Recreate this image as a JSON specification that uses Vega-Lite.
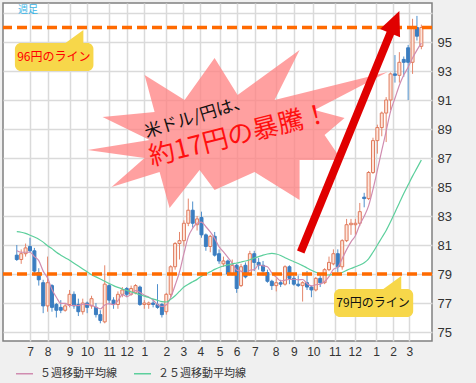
{
  "$schema": "https://vega.github.io/schema/vega-lite/v6.json",
  "width": 429,
  "height": 338,
  "autosize": {"type": "none"},
  "padding": {"left": 3, "top": 3, "right": 44, "bottom": 42},
  "background": "#f0f0f0",
  "config": {
    "view": {"fill": "#ffffff", "stroke": "#808080", "strokeWidth": 1.5},
    "axis": {"labelFont": "Liberation Sans", "labelColor": "#333333", "gridColor": "#dadada", "gridWidth": 1.5, "ticks": false, "domain": false, "title": null}
  },
  "data": {
    "values": [
      {"date": "2011-06-13", "open": 80.3, "high": 81.0, "low": 79.9, "close": 80.0, "ma5": 80.6, "ma25": 81.92},
      {"date": "2011-06-20", "open": 80.0, "high": 80.7, "low": 79.7, "close": 80.4, "ma5": 80.5, "ma25": 81.88},
      {"date": "2011-06-27", "open": 80.4, "high": 81.1, "low": 80.2, "close": 80.8, "ma5": 80.5, "ma25": 81.8},
      {"date": "2011-07-04", "open": 80.9, "high": 81.5, "low": 80.5, "close": 80.6, "ma5": 80.5, "ma25": 81.68},
      {"date": "2011-07-11", "open": 80.6, "high": 80.8, "low": 78.9, "close": 79.2, "ma5": 80.2, "ma25": 81.55},
      {"date": "2011-07-18", "open": 79.1, "high": 79.4, "low": 78.2, "close": 78.6, "ma5": 79.92, "ma25": 81.4},
      {"date": "2011-07-25", "open": 78.4, "high": 78.6, "low": 76.3, "close": 76.8, "ma5": 79.2, "ma25": 81.2},
      {"date": "2011-08-01", "open": 76.8, "high": 80.2, "low": 76.4, "close": 78.4, "ma5": 78.72, "ma25": 80.95},
      {"date": "2011-08-08", "open": 78.2, "high": 78.3, "low": 76.4, "close": 76.7, "ma5": 77.94, "ma25": 80.75},
      {"date": "2011-08-15", "open": 76.9, "high": 77.0, "low": 76.0, "close": 76.5, "ma5": 77.4, "ma25": 80.5},
      {"date": "2011-08-22", "open": 76.7, "high": 77.2, "low": 76.3, "close": 76.5, "ma5": 76.98, "ma25": 80.3},
      {"date": "2011-08-29", "open": 76.5, "high": 77.0, "low": 76.4, "close": 76.8, "ma5": 76.98, "ma25": 80.12},
      {"date": "2011-09-05", "open": 76.9, "high": 77.9, "low": 76.7, "close": 77.6, "ma5": 76.82, "ma25": 79.95},
      {"date": "2011-09-12", "open": 77.6, "high": 77.8, "low": 76.6, "close": 76.8, "ma5": 76.84, "ma25": 79.75},
      {"date": "2011-09-19", "open": 76.9, "high": 77.3, "low": 76.1, "close": 76.4, "ma5": 76.82, "ma25": 79.55},
      {"date": "2011-09-26", "open": 76.4, "high": 77.3, "low": 76.2, "close": 77.0, "ma5": 76.92, "ma25": 79.35},
      {"date": "2011-10-03", "open": 77.0, "high": 77.1, "low": 76.3, "close": 76.7, "ma5": 76.9, "ma25": 79.15},
      {"date": "2011-10-10", "open": 76.8, "high": 77.5, "low": 76.6, "close": 77.3, "ma5": 76.84, "ma25": 78.95},
      {"date": "2011-10-17", "open": 76.7, "high": 77.0, "low": 76.0, "close": 76.2, "ma5": 76.72, "ma25": 78.8},
      {"date": "2011-10-24", "open": 76.2, "high": 76.5, "low": 75.6, "close": 75.8, "ma5": 76.6, "ma25": 78.65},
      {"date": "2011-10-31", "open": 75.7, "high": 79.6, "low": 75.6, "close": 78.3, "ma5": 76.86, "ma25": 78.5},
      {"date": "2011-11-07", "open": 78.2, "high": 78.3, "low": 76.9, "close": 77.2, "ma5": 76.96, "ma25": 78.35},
      {"date": "2011-11-14", "open": 77.2, "high": 77.4, "low": 76.6, "close": 76.9, "ma5": 76.88, "ma25": 78.2},
      {"date": "2011-11-21", "open": 76.9, "high": 77.8, "low": 76.6, "close": 77.6, "ma5": 77.16, "ma25": 78.08},
      {"date": "2011-11-28", "open": 77.6, "high": 78.1, "low": 77.4, "close": 77.9, "ma5": 77.58, "ma25": 77.97},
      {"date": "2011-12-05", "open": 78.0, "high": 78.1, "low": 77.4, "close": 77.6, "ma5": 77.44, "ma25": 77.87},
      {"date": "2011-12-12", "open": 77.6, "high": 78.2, "low": 77.5, "close": 78.0, "ma5": 77.6, "ma25": 77.77},
      {"date": "2011-12-19", "open": 77.7, "high": 78.3, "low": 77.6, "close": 78.2, "ma5": 77.86, "ma25": 77.67},
      {"date": "2011-12-26", "open": 78.1, "high": 78.2, "low": 76.8, "close": 76.9, "ma5": 77.72, "ma25": 77.57},
      {"date": "2012-01-02", "open": 76.9, "high": 77.2, "low": 76.6, "close": 77.0, "ma5": 77.54, "ma25": 77.47},
      {"date": "2012-01-09", "open": 76.9, "high": 77.1, "low": 76.6, "close": 77.0, "ma5": 77.42, "ma25": 77.38},
      {"date": "2012-01-16", "open": 77.0, "high": 77.3, "low": 76.7, "close": 76.9, "ma5": 77.2, "ma25": 77.28},
      {"date": "2012-01-23", "open": 76.9, "high": 78.3, "low": 76.6, "close": 76.7, "ma5": 76.9, "ma25": 77.18},
      {"date": "2012-01-30", "open": 76.9, "high": 77.0, "low": 76.0, "close": 76.2, "ma5": 76.76, "ma25": 77.1},
      {"date": "2012-02-06", "open": 76.4, "high": 77.7, "low": 76.2, "close": 77.6, "ma5": 76.88, "ma25": 77.07},
      {"date": "2012-02-13", "open": 77.6, "high": 79.6, "low": 77.4, "close": 79.5, "ma5": 77.38, "ma25": 77.25},
      {"date": "2012-02-20", "open": 79.5, "high": 81.2, "low": 79.3, "close": 81.1, "ma5": 78.22, "ma25": 77.5},
      {"date": "2012-02-27", "open": 81.1, "high": 81.9, "low": 80.0, "close": 81.3, "ma5": 79.14, "ma25": 77.8},
      {"date": "2012-03-05", "open": 81.3, "high": 82.7, "low": 80.9, "close": 82.5, "ma5": 80.4, "ma25": 78.1},
      {"date": "2012-03-12", "open": 82.5, "high": 84.2, "low": 82.3, "close": 83.4, "ma5": 81.56, "ma25": 78.3},
      {"date": "2012-03-19", "open": 83.4, "high": 84.0, "low": 82.2, "close": 82.5, "ma5": 82.16, "ma25": 78.47},
      {"date": "2012-03-26", "open": 82.4, "high": 83.0, "low": 82.0, "close": 82.8, "ma5": 82.5, "ma25": 78.63},
      {"date": "2012-04-02", "open": 82.9, "high": 83.3, "low": 81.5, "close": 81.7, "ma5": 82.58, "ma25": 78.85},
      {"date": "2012-04-09", "open": 81.7, "high": 81.8, "low": 80.6, "close": 80.9, "ma5": 82.26, "ma25": 79.0},
      {"date": "2012-04-16", "open": 80.9, "high": 81.7, "low": 80.5, "close": 81.6, "ma5": 81.9, "ma25": 79.15},
      {"date": "2012-04-23", "open": 81.6, "high": 81.9, "low": 80.2, "close": 80.3, "ma5": 81.46, "ma25": 79.32},
      {"date": "2012-04-30", "open": 80.4, "high": 80.7, "low": 79.7, "close": 79.9, "ma5": 80.88, "ma25": 79.45},
      {"date": "2012-05-07", "open": 79.7, "high": 80.2, "low": 79.5, "close": 79.9, "ma5": 80.52, "ma25": 79.55},
      {"date": "2012-05-14", "open": 79.9, "high": 80.0, "low": 78.9, "close": 79.0, "ma5": 80.14, "ma25": 79.63},
      {"date": "2012-05-21", "open": 79.0, "high": 80.0, "low": 78.9, "close": 79.6, "ma5": 79.74, "ma25": 79.7},
      {"date": "2012-05-28", "open": 79.6, "high": 79.7, "low": 77.7, "close": 78.0, "ma5": 79.28, "ma25": 79.76},
      {"date": "2012-06-04", "open": 78.2, "high": 79.7, "low": 78.1, "close": 79.5, "ma5": 79.2, "ma25": 79.83},
      {"date": "2012-06-11", "open": 79.6, "high": 79.8, "low": 78.7, "close": 78.8, "ma5": 78.98, "ma25": 79.9},
      {"date": "2012-06-18", "open": 79.0, "high": 80.6, "low": 78.9, "close": 80.4, "ma5": 79.26, "ma25": 79.98},
      {"date": "2012-06-25", "open": 80.4, "high": 80.6, "low": 79.2, "close": 79.8, "ma5": 79.3, "ma25": 80.1},
      {"date": "2012-07-02", "open": 79.8, "high": 80.1, "low": 79.3, "close": 79.6, "ma5": 79.62, "ma25": 80.2},
      {"date": "2012-07-09", "open": 79.6, "high": 79.9, "low": 78.9, "close": 79.2, "ma5": 79.56, "ma25": 80.3},
      {"date": "2012-07-16", "open": 79.1, "high": 79.3, "low": 78.4, "close": 78.5, "ma5": 79.5, "ma25": 80.38},
      {"date": "2012-07-23", "open": 78.5, "high": 78.6, "low": 77.9, "close": 78.2, "ma5": 79.06, "ma25": 80.42},
      {"date": "2012-07-30", "open": 78.2, "high": 78.7, "low": 77.8, "close": 78.4, "ma5": 78.78, "ma25": 80.38},
      {"date": "2012-08-06", "open": 78.4, "high": 78.6, "low": 78.1, "close": 78.3, "ma5": 78.52, "ma25": 80.28},
      {"date": "2012-08-13", "open": 78.3, "high": 79.6, "low": 78.2, "close": 79.5, "ma5": 78.58, "ma25": 80.12},
      {"date": "2012-08-20", "open": 79.5, "high": 79.6, "low": 78.3, "close": 78.7, "ma5": 78.62, "ma25": 79.98},
      {"date": "2012-08-27", "open": 78.7, "high": 78.9, "low": 78.2, "close": 78.3, "ma5": 78.64, "ma25": 79.85},
      {"date": "2012-09-03", "open": 78.3, "high": 78.9, "low": 78.1, "close": 78.2, "ma5": 78.6, "ma25": 79.72},
      {"date": "2012-09-10", "open": 78.2, "high": 78.5, "low": 77.1, "close": 78.4, "ma5": 78.62, "ma25": 79.58},
      {"date": "2012-09-17", "open": 78.4, "high": 79.2, "low": 77.9, "close": 78.1, "ma5": 78.34, "ma25": 79.42},
      {"date": "2012-09-24", "open": 78.1, "high": 78.2, "low": 77.4, "close": 77.9, "ma5": 78.18, "ma25": 79.26},
      {"date": "2012-10-01", "open": 77.9, "high": 78.8, "low": 77.8, "close": 78.7, "ma5": 78.26, "ma25": 79.12},
      {"date": "2012-10-08", "open": 78.7, "high": 78.9, "low": 78.1, "close": 78.4, "ma5": 78.3, "ma25": 79.02},
      {"date": "2012-10-15", "open": 78.4, "high": 79.4, "low": 78.3, "close": 79.3, "ma5": 78.48, "ma25": 78.95},
      {"date": "2012-10-22", "open": 79.3, "high": 80.2, "low": 79.2, "close": 79.8, "ma5": 78.82, "ma25": 78.93},
      {"date": "2012-10-29", "open": 79.7, "high": 80.7, "low": 79.6, "close": 80.4, "ma5": 79.32, "ma25": 78.97},
      {"date": "2012-11-05", "open": 80.4, "high": 80.7, "low": 79.1, "close": 79.5, "ma5": 79.48, "ma25": 79.02},
      {"date": "2012-11-12", "open": 79.5, "high": 81.4, "low": 79.3, "close": 81.3, "ma5": 80.06, "ma25": 79.1},
      {"date": "2012-11-19", "open": 81.3, "high": 82.8, "low": 81.2, "close": 82.4, "ma5": 80.68, "ma25": 79.25},
      {"date": "2012-11-26", "open": 82.4, "high": 82.8, "low": 81.7, "close": 82.5, "ma5": 81.22, "ma25": 79.38},
      {"date": "2012-12-03", "open": 82.4, "high": 82.8, "low": 81.7, "close": 82.5, "ma5": 81.64, "ma25": 79.5},
      {"date": "2012-12-10", "open": 82.5, "high": 83.9, "low": 82.3, "close": 83.3, "ma5": 82.4, "ma25": 79.62},
      {"date": "2012-12-17", "open": 84.3, "high": 84.6, "low": 83.6, "close": 84.2, "ma5": 82.98, "ma25": 79.78},
      {"date": "2012-12-24", "open": 84.2, "high": 86.1, "low": 84.1, "close": 86.0, "ma5": 83.7, "ma25": 80.05},
      {"date": "2012-12-31", "open": 86.0, "high": 88.4, "low": 85.9, "close": 88.2, "ma5": 84.84, "ma25": 80.5},
      {"date": "2013-01-07", "open": 88.2, "high": 89.3, "low": 87.3, "close": 89.1, "ma5": 86.16, "ma25": 81.0},
      {"date": "2013-01-14", "open": 89.1, "high": 90.2, "low": 88.5, "close": 90.1, "ma5": 87.52, "ma25": 81.5},
      {"date": "2013-01-21", "open": 90.1, "high": 91.2, "low": 88.1, "close": 91.0, "ma5": 88.86, "ma25": 82.0},
      {"date": "2013-01-28", "open": 91.0, "high": 92.9, "low": 90.3, "close": 92.8, "ma5": 90.22, "ma25": 82.6},
      {"date": "2013-02-04", "open": 92.8, "high": 94.1, "low": 92.2, "close": 92.7, "ma5": 91.12, "ma25": 83.25},
      {"date": "2013-02-11", "open": 92.7, "high": 94.3, "low": 92.2, "close": 93.6, "ma5": 92.02, "ma25": 83.9},
      {"date": "2013-02-18", "open": 93.8, "high": 94.0, "low": 92.6, "close": 93.6, "ma5": 92.72, "ma25": 84.55},
      {"date": "2013-02-25", "open": 94.6, "high": 94.8, "low": 91.0, "close": 93.6, "ma5": 93.26, "ma25": 85.15},
      {"date": "2013-03-04", "open": 93.6, "high": 96.6, "low": 92.8, "close": 96.0, "ma5": 93.9, "ma25": 85.75},
      {"date": "2013-03-11", "open": 96.0, "high": 96.8, "low": 95.1, "close": 95.4, "ma5": 94.44, "ma25": 86.3},
      {"date": "2013-03-18", "open": 94.7, "high": 96.2, "low": 94.5, "close": 96.0, "ma5": 94.92, "ma25": 86.86}
    ]
  },
  "layer": [
    {
      "mark": {"type": "rule", "strokeWidth": 1},
      "encoding": {
        "x": {
          "field": "date", "type": "temporal",
          "scale": {"domain": [{"year": 2011, "month": 5, "date": 30}, {"year": 2013, "month": 3, "date": 27}], "nice": false},
          "axis": {
            "orient": "bottom",
            "values": [
              {"year": 2011, "month": 7, "date": 4}, {"year": 2011, "month": 8, "date": 1}, {"year": 2011, "month": 9, "date": 5},
              {"year": 2011, "month": 10, "date": 3}, {"year": 2011, "month": 11, "date": 7}, {"year": 2011, "month": 12, "date": 5},
              {"year": 2012, "month": 1, "date": 2}, {"year": 2012, "month": 2, "date": 6}, {"year": 2012, "month": 3, "date": 4},
              {"year": 2012, "month": 3, "date": 31}, {"year": 2012, "month": 5, "date": 1}, {"year": 2012, "month": 5, "date": 28},
              {"year": 2012, "month": 6, "date": 26}, {"year": 2012, "month": 7, "date": 29}, {"year": 2012, "month": 8, "date": 27},
              {"year": 2012, "month": 9, "date": 27}, {"year": 2012, "month": 10, "date": 31}, {"year": 2012, "month": 12, "date": 2},
              {"year": 2013, "month": 1, "date": 5}, {"year": 2013, "month": 2, "date": 1}, {"year": 2013, "month": 2, "date": 27}
            ],
            "tickCount": 60,
            "labelExpr": "timeFormat(time(datum.value) + 518400000, '%-m')",
            "labelFontSize": 12, "labelPadding": 5, "labelOverlap": false, "labelFlush": false, "grid": true
          }
        },
        "y": {
          "field": "low", "type": "quantitative",
          "scale": {"domain": [74.38, 97.69], "nice": false, "zero": false},
          "axis": {
            "orient": "right",
            "values": [75, 77, 79, 81, 83, 85, 87, 89, 91, 93, 95, 97],
            "tickCount": 60,
            "format": "d",
            "labelExpr": "datum.value > 96 ? '' : format(datum.value, 'd')",
            "labelFontSize": 13, "labelPadding": 5, "labelOverlap": false, "grid": true
          }
        },
        "y2": {"field": "high"},
        "stroke": {"condition": {"test": "datum.close >= datum.open", "value": "#e5866b"}, "value": "#4f8fcc"}
      }
    },
    {
      "mark": {"type": "bar", "width": 3, "strokeWidth": 1},
      "encoding": {
        "x": {"field": "date", "type": "temporal"},
        "y": {"field": "open", "type": "quantitative"},
        "y2": {"field": "close"},
        "fill": {"condition": {"test": "datum.close >= datum.open", "value": "#fde6dc"}, "value": "#3b7dc0"},
        "stroke": {"condition": {"test": "datum.close >= datum.open", "value": "#e07a5c"}, "value": "#3b7dc0"}
      }
    },
    {
      "transform": [{"fold": ["ma5", "ma25"], "as": ["series", "ma"]}],
      "mark": {"type": "line", "strokeWidth": 1.2, "interpolate": "monotone"},
      "encoding": {
        "x": {"field": "date", "type": "temporal"},
        "y": {"field": "ma", "type": "quantitative"},
        "color": {
          "field": "series", "type": "nominal",
          "scale": {"domain": ["ma5", "ma25"], "range": ["#d08cb0", "#5ccf9c"]},
          "legend": {
            "orient": "none", "legendX": 12, "legendY": 361, "direction": "horizontal", "title": null,
            "labelExpr": "datum.value == 'ma5' ? '５週移動平均線' : '２５週移動平均線'",
            "labelFont": "Noto Sans CJK JP", "labelFontSize": 11, "labelColor": "#333333",
            "symbolType": "stroke", "symbolSize": 289, "symbolStrokeWidth": 1.5,
            "labelOffset": 6, "columnPadding": 14, "padding": 0
          }
        }
      }
    },
    {
      "data": {"values": [{"level": 96}, {"level": 79}]},
      "mark": {"type": "rule", "stroke": "#ff6a00", "strokeWidth": 3.5, "strokeDash": [10, 5]},
      "encoding": {"y": {"field": "level", "type": "quantitative"}}
    },
    {
      "data": {"values": [{}]},
      "mark": {
        "type": "point", "filled": true, "size": 40000, "color": "#ff8080", "opacity": 0.75, "strokeWidth": 0,
        "shape": "M -1.34 0.15 L -0.72 0.05 L -1.19 -0.18 L -0.67 -0.23 L -0.77 -0.6 L -0.37 -0.35 L -0.07 -0.77 L 0.16 -0.4 L 0.78 -0.85 L 0.53 -0.35 L 1.66 -0.63 L 0.93 -0.25 L 1.23 -0.17 L 1.03 0 L 1.2 0.25 L 0.78 0.25 L 0.78 0.65 L 0.33 0.37 L -0.07 0.55 L -0.22 0.35 L -0.52 0.73 L -0.62 0.37 L -1.1 0.52 L -0.77 0.23 Z"
      },
      "encoding": {
        "x": {"datum": {"year": 2012, "month": 5, "date": 4}, "type": "temporal"},
        "y": {"datum": 88.59, "type": "quantitative"}
      }
    },
    {
      "data": {"values": [{}]},
      "mark": {"type": "text", "text": "米ドル/円は、", "font": "Noto Sans CJK JP", "fontSize": 17, "angle": 343, "color": "#111111", "align": "center", "baseline": "middle"},
      "encoding": {
        "x": {"datum": {"year": 2012, "month": 3, "date": 26}, "type": "temporal"},
        "y": {"datum": 89.83, "type": "quantitative"}
      }
    },
    {
      "data": {"values": [{}]},
      "mark": {"type": "text", "text": "約17円の暴騰！", "font": "Noto Sans CJK JP", "fontSize": 26, "angle": 346, "color": "#ff1010", "align": "center", "baseline": "middle"},
      "encoding": {
        "x": {"datum": {"year": 2012, "month": 6, "date": 1}, "type": "temporal"},
        "y": {"datum": 88.55, "type": "quantitative"}
      }
    },
    {
      "data": {"values": [{}]},
      "mark": {"type": "rule", "stroke": "#e00000", "strokeWidth": 8, "strokeCap": "butt"},
      "encoding": {
        "x": {"datum": {"year": 2012, "month": 9, "date": 7}, "type": "temporal"},
        "y": {"datum": 80.52, "type": "quantitative"},
        "x2": {"datum": {"year": 2013, "month": 1, "date": 31}},
        "y2": {"datum": 95.97}
      }
    },
    {
      "data": {"values": [{}]},
      "mark": {"type": "point", "filled": true, "size": 2304, "angle": 22.7, "color": "#e00000", "opacity": 1, "strokeWidth": 0, "shape": "M 0 0 L 0.45 1 L -0.45 1 Z"},
      "encoding": {
        "x": {"datum": {"year": 2013, "month": 2, "date": 11}, "type": "temporal"},
        "y": {"datum": 97.14, "type": "quantitative"}
      }
    },
    {
      "data": {"values": [{}]},
      "mark": {"type": "rect", "cornerRadius": 6, "color": "#f7d74a"},
      "encoding": {
        "x": {"datum": {"year": 2011, "month": 6, "date": 10}, "type": "temporal"},
        "x2": {"datum": {"year": 2011, "month": 10, "date": 13}},
        "y": {"datum": 94.93, "type": "quantitative"},
        "y2": {"datum": 93.0}
      }
    },
    {
      "data": {"values": [{}]},
      "mark": {"type": "point", "filled": true, "size": 400, "color": "#f7d74a", "opacity": 1, "strokeWidth": 0, "shape": "M -2.2 0.3 L 0 -1.3 L 0 0.3 Z"},
      "encoding": {
        "x": {"datum": {"year": 2011, "month": 9, "date": 27}, "type": "temporal"},
        "y": {"datum": 94.93, "type": "quantitative"}
      }
    },
    {
      "data": {"values": [{}]},
      "mark": {"type": "text", "text": "96円のライン", "font": "Noto Sans CJK JP", "fontSize": 12, "color": "#ff0000", "align": "center", "baseline": "middle"},
      "encoding": {
        "x": {"datum": {"year": 2011, "month": 8, "date": 11}, "type": "temporal"},
        "y": {"datum": 93.97, "type": "quantitative"}
      }
    },
    {
      "data": {"values": [{}]},
      "mark": {"type": "rect", "cornerRadius": 6, "color": "#f7d74a"},
      "encoding": {
        "x": {"datum": {"year": 2012, "month": 10, "date": 30}, "type": "temporal"},
        "x2": {"datum": {"year": 2013, "month": 3, "date": 5}},
        "y": {"datum": 77.97, "type": "quantitative"},
        "y2": {"datum": 76.03}
      }
    },
    {
      "data": {"values": [{}]},
      "mark": {"type": "point", "filled": true, "size": 400, "color": "#f7d74a", "opacity": 1, "strokeWidth": 0, "shape": "M -2.2 0.3 L 0 -1.3 L 0 0.3 Z"},
      "encoding": {
        "x": {"datum": {"year": 2013, "month": 2, "date": 14}, "type": "temporal"},
        "y": {"datum": 77.97, "type": "quantitative"}
      }
    },
    {
      "data": {"values": [{}]},
      "mark": {"type": "text", "text": "79円のライン", "font": "Noto Sans CJK JP", "fontSize": 12, "color": "#111111", "align": "center", "baseline": "middle"},
      "encoding": {
        "x": {"datum": {"year": 2012, "month": 12, "date": 31}, "type": "temporal"},
        "y": {"datum": 77.0, "type": "quantitative"}
      }
    },
    {
      "data": {"values": [{}]},
      "mark": {"type": "text", "text": "週足", "font": "Noto Sans CJK JP", "fontSize": 10, "color": "#3ab4e6", "align": "center", "baseline": "middle"},
      "encoding": {
        "x": {"datum": {"year": 2011, "month": 7, "date": 1}, "type": "temporal"},
        "y": {"datum": 97.2, "type": "quantitative"}
      }
    }
  ]
}
